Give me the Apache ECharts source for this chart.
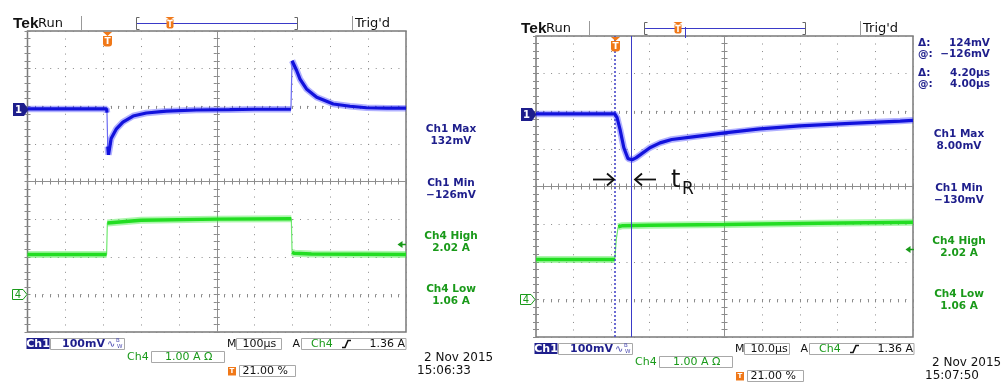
<!DOCTYPE html>
<html><head><meta charset="utf-8">
<script src="https://cdn.jsdelivr.net/npm/echarts@6/dist/echarts.min.js"></script>
<style>html,body{margin:0;padding:0;background:#fff}#c{width:1006px;height:391px}</style>
</head><body><div id="c"></div>
<script>
// ---------- DATA ----------
// Left capture: 100 µs/div, screen = 0..1000 µs (trigger at 21 %)
const leftCh1Time = [0, 100, 209, 210, 212, 214, 221, 235, 252, 279, 314, 367, 446, 534, 600, 696, 697, 699, 702, 711, 720, 737, 764, 808, 852, 896, 950, 1000];
const leftCh1 = [0, 0, 0, -10, -100, -122, -79, -53, -35, -19, -11, -6, -3, -2, -1, -1, 0, 128, 126, 102, 79, 53, 31, 13, 7, 3, 2, 2]; // mV
const leftCh4Time = [0, 209, 211, 215, 300, 500, 697, 699, 705, 750, 1000];
const leftCh4 = [1.06, 1.06, 1.90, 1.93, 1.97, 2.00, 2.01, 1.12, 1.09, 1.07, 1.06]; // A
// Right capture: 10 µs/div, screen = 0..100 µs (trigger at 21 %)
const rightCh1Time = [0, 10, 20.9, 21.5, 22.3, 23.3, 24.4, 25.5, 26.5, 27.6, 30.2, 32.9, 36, 41.6, 50.6, 59.4, 70, 83.3, 96.6, 100];
const rightCh1 = [0, 0, 0, -10, -42, -90, -119, -122, -117, -109, -90, -77, -68, -61, -50, -40, -32, -25, -19, -17]; // mV
const rightCh4Time = [0, 20.9, 21.3, 21.8, 23, 30, 50, 75, 100];
const rightCh4 = [1.06, 1.06, 1.60, 1.93, 1.96, 1.97, 1.99, 2.02, 2.05]; // A
const screenSpan = [1000, 100];          // µs across 10 divisions
const cursorTimes = [21, 25.2];          // µs, right capture cursors
// ---------- TEXT ----------
const timebaseLabels = ['100µs', '10.0µs'];
const ch1ScaleLabel = '100mV';
const ch4ScaleLabel = '1.00 A Ω';
const trigLevelLabel = '1.36 A';
const trigPosLabel = '21.00 %';
const dateLabels = ['2 Nov 2015', '2 Nov 2015'];
const clockLabels = ['15:06:33', '15:07:50'];
const measNames = ['Ch1 Max', 'Ch1 Min', 'Ch4 High', 'Ch4 Low'];
const measLeft = ['132mV', '−126mV', '2.02 A', '1.06 A'];
const measRight = ['8.00mV', '−130mV', '2.02 A', '1.06 A'];
const cursorNames = ['Δ:', '@:', 'Δ:', '@:'];
const cursorValues = ['124mV', '−126mV', '4.20µs', '4.00µs'];

// ---------- STYLE ----------
const NAVY = '#1e1e8c', GTXT = '#1a9a1a', ORANGE = '#f07818';
const tickC = '#8a8a8a', dotC = '#8a8a8a', centerC = '#909090', boxC = '#a8a8a8';
const F = (w, s, fam) => (w ? w + ' ' : '') + s + 'px "' + (fam || 'DejaVu Sans') + '"';

const gridsPos = [
  {left: 27.5, top: 31, width: 378.5, height: 301},
  {left: 536, top: 36, width: 377, height: 301}
];
const ch1Range = [-593, 207], ch4Range = [-1, 7];

const xAxes = [], yAxes = [], grids = [];
gridsPos.forEach((g, p) => {
  grids.push({left: g.left, top: g.top, width: g.width, height: g.height, show: true,
    borderColor: '#7a7a7a', borderWidth: 1.5, backgroundColor: '#fff', containLabel: false});
  const T = screenSpan[p];
  const tickX = {show: true, inside: true, length: 3, lineStyle: {color: tickC, width: 1}};
  const minor = {show: true, splitNumber: 5, length: 3, lineStyle: {color: tickC, width: 1}};
  const base = {gridIndex: p, type: 'value', min: 0, max: T, interval: T / 10, axisLabel: {show: false}};
  xAxes.push(Object.assign({}, base, {position: 'bottom', axisLine: {show: false}, axisTick: tickX, minorTick: minor,
    splitLine: {show: true, lineStyle: {color: dotC, width: 1, type: [1, g.height / 40 - 1]}}}));
  xAxes.push(Object.assign({}, base, {position: 'top', axisLine: {show: false}, axisTick: tickX, minorTick: minor, splitLine: {show: false}}));
  xAxes.push(Object.assign({}, base, {position: 'bottom', offset: -g.height / 2, axisLine: {show: true, lineStyle: {color: centerC, width: 1}},
    axisTick: tickX, minorTick: minor, splitLine: {show: false}}));
  xAxes.push(Object.assign({}, base, {position: 'bottom', offset: -g.height / 2, axisLine: {show: false},
    axisTick: Object.assign({}, tickX, {inside: false}), minorTick: minor, splitLine: {show: false}}));

  yAxes.push({gridIndex: p, type: 'value', min: ch1Range[0], max: ch1Range[1], show: false});
  yAxes.push({gridIndex: p, type: 'value', min: ch4Range[0], max: ch4Range[1], show: false});
  const yb = {gridIndex: p, type: 'value', min: 0, max: 8, interval: 1, axisLabel: {show: false}};
  yAxes.push(Object.assign({}, yb, {position: 'left', axisLine: {show: false}, axisTick: tickX, minorTick: minor,
    splitLine: {show: true, lineStyle: {color: dotC, width: 1, type: [1, g.width / 50 - 1]}}}));
  yAxes.push(Object.assign({}, yb, {position: 'right', axisLine: {show: false}, axisTick: tickX, minorTick: minor, splitLine: {show: false}}));
  yAxes.push(Object.assign({}, yb, {position: 'left', offset: -g.width / 2, axisLine: {show: true, lineStyle: {color: centerC, width: 1}},
    axisTick: tickX, minorTick: minor, splitLine: {show: false}}));
  yAxes.push(Object.assign({}, yb, {position: 'left', offset: -g.width / 2, axisLine: {show: false},
    axisTick: Object.assign({}, tickX, {inside: false}), minorTick: minor, splitLine: {show: false}}));
});

const zip = (a, b) => a.map((v, i) => [v, b[i]]);
// fast edges are drawn thin on a real scope: break the thick trace at near-vertical segments
function breakFastEdges(pts, span, range) {
  const out = [];
  const r = range[1] - range[0];
  pts.forEach((pt, i) => {
    out.push(pt);
    const nx = pts[i + 1];
    if (nx && (nx[0] - pt[0]) / span < 0.006 && Math.abs(nx[1] - pt[1]) / r > 0.03) out.push([(pt[0] + nx[0]) / 2, '-']);
  });
  return out;
}
const traces = [
  [zip(leftCh1Time, leftCh1), zip(leftCh4Time, leftCh4)],
  [zip(rightCh1Time, rightCh1), zip(rightCh4Time, rightCh4)]
];
const series = [];
traces.forEach((tr, p) => {
  const xi = p * 4, yi = p * 6, span = screenSpan[p];
  const g4 = breakFastEdges(tr[1], span, ch4Range), g1 = breakFastEdges(tr[0], span, ch1Range);
  series.push({type: 'line', xAxisIndex: xi, yAxisIndex: yi + 1, data: tr[1], showSymbol: false, silent: true, z: 3,
    lineStyle: {color: '#6fe86f', width: 1.2}});
  series.push({type: 'line', xAxisIndex: xi, yAxisIndex: yi + 1, data: g4, showSymbol: false, silent: true, z: 3,
    lineStyle: {color: 'rgba(70,235,70,0.45)', width: 7}});
  series.push({type: 'line', xAxisIndex: xi, yAxisIndex: yi + 1, data: g4, showSymbol: false, silent: true, z: 4,
    lineStyle: {color: '#22dd22', width: 3.5}});
  series.push({type: 'line', xAxisIndex: xi, yAxisIndex: yi, data: tr[0], showSymbol: false, silent: true, z: 5,
    lineStyle: {color: '#6a6af2', width: 1.2}});
  series.push({type: 'line', xAxisIndex: xi, yAxisIndex: yi, data: g1, showSymbol: false, silent: true, z: 5,
    lineStyle: {color: 'rgba(60,60,255,0.4)', width: 6.5}});
  const core = {type: 'line', xAxisIndex: xi, yAxisIndex: yi, data: g1, showSymbol: false, silent: true, z: 6,
    lineStyle: {color: '#1212dc', width: 3.2}};
  if (p === 1) {
    core.markLine = {silent: true, symbol: 'none', label: {show: false}, animation: false,
      data: [
        {xAxis: cursorTimes[0], lineStyle: {color: '#4848c8', width: 1.6, type: [2, 2]}},
        {xAxis: cursorTimes[1], lineStyle: {color: '#3a3ac8', width: 1, type: 'solid'}}
      ]};
  }
  series.push(core);
});

// ---------- chrome (text & symbols) ----------
const G = [];
const txt = (x, y, text, font, fill, align, valign) => G.push({type: 'text', z: 100, silent: true,
  style: {x: x, y: y, text: text, font: font, fill: fill || '#111', textAlign: align || 'left', textVerticalAlign: valign || 'middle'}});
const ln = (x1, y1, x2, y2, stroke, w) => G.push({type: 'line', z: 100, silent: true, shape: {x1, y1, x2, y2}, style: {stroke: stroke, lineWidth: w || 1}});
const pl = (pts, stroke, w) => G.push({type: 'polyline', z: 100, silent: true, shape: {points: pts}, style: {stroke: stroke, lineWidth: w || 1, fill: null}});
const pg = (pts, fill, stroke) => G.push({type: 'polygon', z: 100, silent: true, shape: {points: pts}, style: {fill: fill, stroke: stroke || null, lineWidth: 1}});
const rc = (x, y, w, h, fill, stroke, r) => G.push({type: 'rect', z: 100, silent: true, shape: {x, y, width: w, height: h, r: r || 0}, style: {fill: fill || null, stroke: stroke || null, lineWidth: 1}});

[0, 1].forEach(p => {
  const dx = 508 * p, dy = 5 * p;
  // top bar
  txt(13 + dx, 23.5 + dy, 'Tek', F('bold', 15.5, 'Liberation Sans'), '#111');
  txt(38 + dx, 23.5 + dy, 'Run', F('', 13), '#111');
  ln(81.5 + dx, 16 + dy, 81.5 + dx, 31 + dy, '#999');
  pl([[139.5 + dx, 17.5 + dy], [136.5 + dx, 17.5 + dy], [136.5 + dx, 29.5 + dy], [139.5 + dx, 29.5 + dy]], '#666');
  pl([[294.5 + dx, 17.5 + dy], [297.5 + dx, 17.5 + dy], [297.5 + dx, 29.5 + dy], [294.5 + dx, 29.5 + dy]], '#666');
  ln(137 + dx, 23.5 + dy, 297 + dx, 23.5 + dy, '#3a3ac8');
  pg([[165.5 + dx, 17 + dy], [174.5 + dx, 17 + dy], [170 + dx, 20 + dy]], ORANGE);
  rc(166.5 + dx, 19.5 + dy, 7, 9, ORANGE, null, [0, 0, 2, 2]);
  txt(170 + dx, 24.5 + dy, 'T', F('bold', 8), '#fff', 'center');
  if (p === 1) ln(177.5 + dx, 22 + dy, 177.5 + dx, 33 + dy, '#3a3ac8');
  ln(352.5 + dx, 16 + dy, 352.5 + dx, 31 + dy, '#999');
  txt(355 + dx, 23.5 + dy, "Trig'd", F('', 13), '#111');
  // trigger position marker on graticule
  pg([[103 + dx, 32 + dy], [112 + dx, 32 + dy], [107.5 + dx, 36 + dy]], ORANGE);
  rc(103 + dx, 36 + dy, 9, 10.5, ORANGE, null, [0, 0, 3, 3]);
  txt(107.5 + dx, 41.5 + dy, 'T', F('bold', 9), '#fff', 'center');
  // channel markers
  pg([[13 + dx, 103 + dy], [24 + dx, 103 + dy], [28.5 + dx, 109.5 + dy], [24 + dx, 116 + dy], [13 + dx, 116 + dy]], NAVY);
  txt(18.5 + dx, 110 + dy, '1', F('bold', 10), '#fff', 'center');
  pg([[12.5 + dx, 289.5 + dy], [23 + dx, 289.5 + dy], [27 + dx, 294.5 + dy], [23 + dx, 299.5 + dy], [12.5 + dx, 299.5 + dy]], '#fff', GTXT);
  txt(18 + dx, 295 + dy, '4', F('', 10), GTXT, 'center');
  // trigger level arrow
  pg([[397.5 + dx, 244.5 + dy], [402.5 + dx, 241 + dy], [402.5 + dx, 248 + dy]], GTXT);
  ln(402 + dx, 244.5 + dy, 406 + dx, 244.5 + dy, GTXT, 1.5);
  // bottom readouts
  rc(26.5 + dx, 338 + dy, 23, 11, NAVY);
  txt(38 + dx, 344 + dy, 'Ch1', F('bold', 11), '#fff', 'center');
  rc(50.5 + dx, 338.5 + dy, 74, 11, null, boxC);
  txt(62 + dx, 344 + dy, ch1ScaleLabel, F('bold', 11), NAVY);
  txt(107 + dx, 344 + dy, '∿', F('', 10), '#4a4ab0');
  txt(116 + dx, 341 + dy, 'B', F('', 5.5), '#4a4ab0');
  txt(117 + dx, 346.5 + dy, 'W', F('', 5.5), '#4a4ab0');
  txt(227 + dx, 344 + dy, 'M', F('', 11), '#111');
  rc(236.5 + dx, 338.5 + dy, 45, 11, null, boxC);
  txt(242.5 + dx, 344 + dy, timebaseLabels[p], F('', 11), '#111');
  txt(292.5 + dx, 344 + dy, 'A', F('', 11), '#111');
  rc(301.5 + dx, 338.5 + dy, 104.5, 11, null, boxC);
  txt(311 + dx, 344 + dy, 'Ch4', F('', 11), GTXT);
  pl([[342 + dx, 347.5 + dy], [345 + dx, 347.5 + dy], [348 + dx, 340.5 + dy], [351 + dx, 340.5 + dy]], '#111', 1.6);
  txt(405 + dx, 344 + dy, trigLevelLabel, F('', 11), '#111', 'right');
  txt(127 + dx, 357.5 + dy, 'Ch4', F('', 11), GTXT);
  rc(151.5 + dx, 351.5 + dy, 73, 11, null, boxC);
  txt(165 + dx, 357.5 + dy, ch4ScaleLabel, F('', 11), GTXT);
  rc(228 + dx, 367 + dy, 8, 8.5, ORANGE);
  txt(232 + dx, 371.5 + dy, 'T', F('bold', 7), '#fff', 'center');
  rc(239.5 + dx, 365.5 + dy, 56, 11, null, boxC);
  txt(242.5 + dx, 371.5 + dy, trigPosLabel, F('', 11), '#111');
  txt(424 + dx, 358 + dy, dateLabels[p], F('', 12), '#111');
  txt(417 + dx, 371 + dy, clockLabels[p], F('', 12), '#111');
  // measurements
  const mv = p === 0 ? measLeft : measRight;
  const rowsY = [129, 183, 236, 289];
  measNames.forEach((n, i) => {
    const col = i < 2 ? NAVY : GTXT;
    txt(451 + dx, rowsY[i] + dy, n, F('bold', 10.5), col, 'center');
    txt(451 + dx, rowsY[i] + 12.5 + dy, mv[i], F('bold', 10.5), col, 'center');
  });
});
// cursor readouts (right capture)
[43, 54, 73, 84].forEach((y, i) => {
  txt(918, y, cursorNames[i], F('bold', 10.5), NAVY);
  txt(990, y, cursorValues[i], F('bold', 10.5), NAVY, 'right');
});
// rise-time annotation
ln(593, 179.5, 614, 179.5, '#111', 1.8);
pl([[607, 173.5], [614, 179.5], [607, 185.5]], '#111', 1.8);
ln(656, 179.5, 635, 179.5, '#111', 1.8);
pl([[642, 173.5], [635, 179.5], [642, 185.5]], '#111', 1.8);
txt(671, 181, 't', F('', 24), '#111');
txt(682, 190, 'R', F('', 17), '#111');

const chart = echarts.init(document.getElementById('c'), null, {renderer: 'canvas'});
chart.setOption({
  animation: false,
  backgroundColor: '#fff',
  grid: grids,
  xAxis: xAxes,
  yAxis: yAxes,
  series: series,
  graphic: G
});
</script></body></html>
